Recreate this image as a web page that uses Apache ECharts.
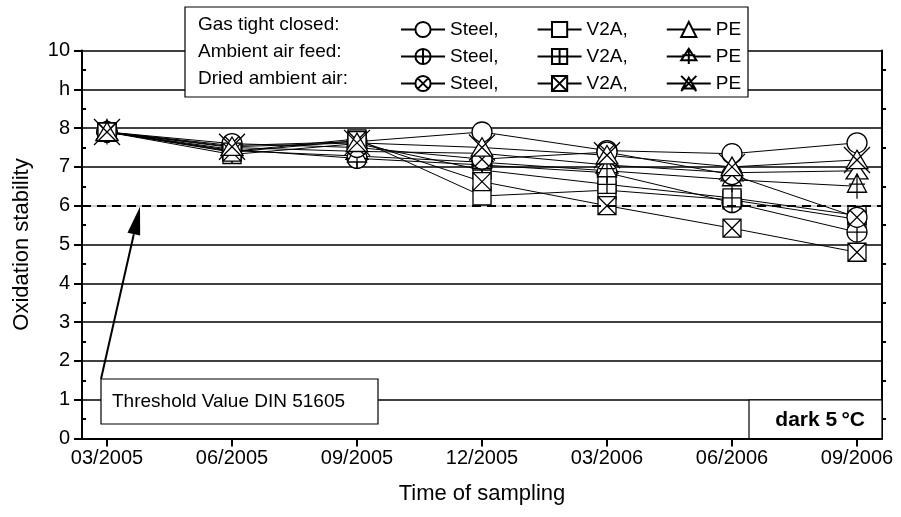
<!DOCTYPE html>
<html><head><meta charset="utf-8">
<script src="https://cdn.jsdelivr.net/npm/echarts@6/dist/echarts.min.js"></script>
<style>html,body{margin:0;padding:0;background:#fff}#c{width:901px;height:517px}</style>
</head><body><div id="c"></div>
<script>
// ---- data ----
const categories = ['03/2005','06/2005','09/2005','12/2005','03/2006','06/2006','09/2006'];
const yTickLabels = ['0','1','2','3','4','5','6','7','8','h','10'];
const xTickValues = [0,1,2,3,4,5,6];
const yMinorTicks = [0.5,1.5,2.5,3.5,4.5,5.5,6.5,7.5,8.5,9.5];
const thresholdValue = 6;

const steelClosed = [7.9, 7.55, 7.65, 7.9, 7.42, 7.34, 7.62];
const v2aClosed   = [7.9, 7.40, 7.72, 6.25, 6.40, 6.15, 5.65];
const peClosed    = [7.9, 7.50, 7.40, 7.35, 7.05, 6.85, 6.90];
const steelFeed   = [7.9, 7.45, 7.22, 7.05, 6.85, 6.08, 5.32];
const v2aFeed     = [7.9, 7.32, 7.60, 6.92, 6.55, 6.20, 5.75];
const peFeed      = [7.9, 7.42, 7.28, 7.12, 6.90, 6.67, 6.50];
const steelDried  = [7.9, 7.60, 7.50, 7.20, 7.38, 6.80, 5.70];
const v2aDried    = [7.9, 7.38, 7.68, 6.62, 6.00, 5.42, 4.80];
const peDried     = [7.9, 7.52, 7.62, 7.50, 7.30, 7.00, 7.18];

const rowLabels = ['Gas tight closed:', 'Ambient air feed:', 'Dried ambient air:'];
const materialLabels = ['Steel,', 'V2A,', 'PE'];

// ---- styling ----
const FONT = '"Liberation Sans", Arial, sans-serif';
const C = 'M0,10A10,10,0,1,1,20,10A10,10,0,1,1,0,10Z';
const S = 'M0,0L20,0L20,20L0,20Z';
const SYM = {
  circle: 'path://' + C,
  circlePlus: 'path://' + C + 'M10,0L10,20M0,10L20,10',
  circleX: 'path://' + C + 'M2.93,2.93L17.07,17.07M17.07,2.93L2.93,17.07',
  square: 'path://' + S,
  squarePlus: 'path://' + S + 'M10,0L10,20M0,10L20,10',
  squareX: 'path://' + S + 'M0,0L20,20M20,0L0,20',
  triangle: 'path://M10,0L20,17L0,17Z',
  trianglePlus: 'path://M10,0L20,17L0,17ZM10,0L10,23M1.5,9.5L18.5,9.5',
  triangleX: 'path://M13,4L23,21L3,21ZM1,1L25,25M25,1L1,25'
};

const defs = [
  {id:'closed-steel', row:0, mat:0, data:steelClosed, sym:SYM.circle, size:[20,20]},
  {id:'closed-v2a',   row:0, mat:1, data:v2aClosed,   sym:SYM.square, size:[18,18]},
  {id:'closed-pe',    row:0, mat:2, data:peClosed,    sym:SYM.triangle, size:[22,19]},
  {id:'feed-steel',   row:1, mat:0, data:steelFeed,   sym:SYM.circlePlus, size:[20,20]},
  {id:'feed-v2a',     row:1, mat:1, data:v2aFeed,     sym:SYM.squarePlus, size:[18,18]},
  {id:'feed-pe',      row:1, mat:2, data:peFeed,      sym:SYM.trianglePlus, size:[22,25]},
  {id:'dried-steel',  row:2, mat:0, data:steelDried,  sym:SYM.circleX, size:[20,20]},
  {id:'dried-v2a',    row:2, mat:1, data:v2aDried,    sym:SYM.squareX, size:[18,18]},
  {id:'dried-pe',     row:2, mat:2, data:peDried,     sym:SYM.triangleX, size:[26,26]}
];
const labelOf = {};
defs.forEach(d => labelOf[d.id] = materialLabels[d.mat]);

const gridColors = yTickLabels.map((t, i) => i === thresholdValue ? '#c0c0c0' : '#000');

const rowCenters = [25, 52, 79];
const legendBox = {x:185, y:7, w:563, h:90};

const series = defs.map((d, k) => ({
  type: 'line', name: d.id,
  data: d.data.map((v, i) => [i, v]),
  symbol: d.sym, symbolSize: d.size, symbolKeepAspect: true,
  lineStyle: {color:'#000', width:1},
  itemStyle: {color:'#fff', borderColor:'#000', borderWidth:1.3},
  emphasis: {disabled: true},
  animation: false,
  z: 2
}));
series[0].markLine = {
  silent: true, symbol: ['none','none'], label: {show:false},
  lineStyle: {color:'#000', width:2, type:[9,6]},
  data: [{yAxis: thresholdValue}],
  animation: false
};

const option = {
  animation: false,
  grid: {left:82, right:19, top:50.5, bottom:78.5},
  xAxis: {
    type:'value', min:-0.2, max:6.2,
    axisLine:{show:true, onZero:false, lineStyle:{color:'#000', width:2}},
    axisTick:{show:true, customValues:xTickValues, length:8, lineStyle:{color:'#000', width:2}},
    axisLabel:{customValues:xTickValues, formatter: v => categories[Math.round(v)], fontSize:20, color:'#000', fontFamily:FONT, margin:10},
    splitLine:{show:false},
    name:'Time of sampling', nameLocation:'middle', nameGap:44,
    nameTextStyle:{fontSize:22, color:'#000', fontFamily:FONT}
  },
  yAxis: [
    {type:'value', min:0, max:10, interval:1, position:'left',
     axisLine:{show:true, onZero:false, lineStyle:{color:'#000', width:2}},
     axisTick:{show:true, length:8, lineStyle:{color:'#000', width:2}},
     axisLabel:{formatter: v => yTickLabels[Math.round(v)], fontSize:20, color:'#000', fontFamily:FONT, margin:12},
     splitLine:{show:true, lineStyle:{color:gridColors, width:1.5}},
     name:'Oxidation stability', nameLocation:'middle', nameGap:49,
     nameTextStyle:{fontSize:22, color:'#000', fontFamily:FONT}},
    {type:'value', min:0, max:10, position:'left',
     axisLine:{show:false, onZero:false}, axisLabel:{show:false}, splitLine:{show:false},
     axisTick:{show:true, inside:true, customValues:yMinorTicks, length:4, lineStyle:{color:'#000', width:2}}},
    {type:'value', min:0, max:10, position:'right',
     axisLine:{show:true, onZero:false, lineStyle:{color:'#000', width:2}}, axisLabel:{show:false}, splitLine:{show:false},
     axisTick:{show:true, inside:false, customValues:yMinorTicks, length:4, lineStyle:{color:'#000', width:2}}}
  ],
  legend: rowLabels.map((r, i) => ({
    data: defs.filter(d => d.row === i).map(d => d.id),
    left: 395, top: rowCenters[i] - 10,
    itemWidth: 44, itemHeight: 19, itemGap: 38,
    selectedMode: false, formatter: name => labelOf[name],
    textStyle: {fontSize:19, color:'#000', fontFamily:FONT},
    z: 20
  })),
  series: series
};

const chart = echarts.init(document.getElementById('c'));
chart.setOption(option);

// annotations
const tip = chart.convertToPixel({gridIndex:0}, [0.264, thresholdValue - 0.03]);
const tail = [101, 379];
const dx = tip[0]-tail[0], dy = tip[1]-tail[1], L = Math.hypot(dx, dy);
const ux = dx/L, uy = dy/L, nx = -uy, ny = ux;
const hl = 28, hw = 6.5;
const bx = tip[0]-hl*ux, by = tip[1]-hl*uy;

const graphics = [
  {type:'rect', shape:{x:legendBox.x, y:legendBox.y, width:legendBox.w, height:legendBox.h},
   style:{fill:'#fff', stroke:'#000', lineWidth:1.2}, z:5},
  ...rowLabels.map((t, i) => ({type:'text', x:198, y:rowCenters[i],
    style:{text:t, fill:'#000', font:'19px ' + FONT, verticalAlign:'middle'}, z:21})),
  {type:'line', shape:{x1:tail[0], y1:tail[1], x2:bx, y2:by}, style:{stroke:'#000', lineWidth:2}, z:5},
  {type:'polygon', shape:{points:[tip, [bx+hw*nx, by+hw*ny], [bx-hw*nx, by-hw*ny]]}, style:{fill:'#000'}, z:5},
  {type:'rect', shape:{x:101, y:379, width:277, height:45}, style:{fill:'#fff', stroke:'#000', lineWidth:1.2}, z:6},
  {type:'text', x:112, y:401.5, style:{text:'Threshold Value DIN 51605', fill:'#000', font:'19px ' + FONT, verticalAlign:'middle'}, z:7},
  {type:'rect', shape:{x:749, y:400, width:133, height:38.5}, style:{fill:'#fff', stroke:'#000', lineWidth:1.2}, z:6},
  {type:'text', x:865, y:420, style:{text:'dark 5\u2009°C', fill:'#000', font:'bold 21px ' + FONT, align:'right', verticalAlign:'middle'}, z:7}
];
chart.setOption({graphic: graphics});
</script>
</body></html>
